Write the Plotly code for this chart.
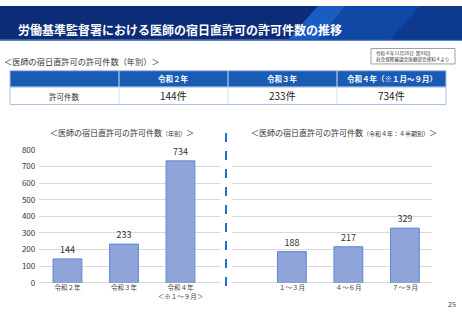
import plotly.graph_objects as go

# ---- data ----
year_labels = ["令和２年", "令和３年", "令和４年"]
year_ticks = ["令和２年", "令和３年", "令和４年<br>＜※１～９月＞"]
year_counts = [144, 233, 734]
table_headers = ["令和２年", "令和３年", "令和４年（※１月～９月）"]
row_label = "許可件数"
quarter_labels = ["１～３月", "４～６月", "７～９月"]
quarter_counts = [188, 217, 329]
y_ticks = [0, 100, 200, 300, 400, 500, 600, 700, 800]

W, H = 462, 320
FONT = "Noto Sans CJK JP"


def px(x):
    return x / W


def py(y):
    return 1 - y / H


bar_color = "#8fa4d9"
bar_line = "#5b87d3"

fig = go.Figure()
fig.add_trace(go.Bar(
    x=year_ticks, y=year_counts, xaxis="x", yaxis="y",
    marker=dict(color=bar_color, line=dict(color=bar_line, width=1)),
    width=0.51, text=[str(v) for v in year_counts], textposition="outside",
    textfont=dict(size=9, color="#333333", family=FONT), cliponaxis=False,
    showlegend=False,
))
fig.add_trace(go.Bar(
    x=quarter_labels, y=quarter_counts, xaxis="x2", yaxis="y2",
    marker=dict(color=bar_color, line=dict(color=bar_line, width=1)),
    width=0.51, text=[str(v) for v in quarter_counts], textposition="outside",
    textfont=dict(size=9, color="#333333", family=FONT), cliponaxis=False,
    showlegend=False,
))

y_dom = [py(286.7), py(149)]
common_y = dict(range=[0, 800], tickvals=y_ticks, showgrid=True,
                gridcolor="#d9d9d9", gridwidth=1, zeroline=True,
                zerolinecolor="#d9d9d9", zerolinewidth=1, domain=y_dom,
                fixedrange=True)

fig.update_layout(
    width=W, height=H, margin=dict(l=0, r=0, t=0, b=0),
    paper_bgcolor="white", plot_bgcolor="white",
    font=dict(family=FONT, color="#333333"),
    bargap=0.3,
    xaxis=dict(domain=[px(39.25), px(220)], range=[-0.5, 2.7],
               tickfont=dict(size=6.5, color="#444444"), showline=False,
               ticks="", showgrid=False, anchor="y"),
    yaxis=dict(**common_y, tickfont=dict(size=8, color="#333333"),
               ticks="", ticklabelstandoff=3, anchor="x"),
    xaxis2=dict(domain=[px(232), px(432)], range=[-1.06, 2.48],
                tickfont=dict(size=6.5, color="#444444"), showline=False,
                ticks="", showgrid=False, anchor="y2"),
    yaxis2=dict(**common_y, showticklabels=False, anchor="x2"),
)

shapes = []
ann = []


def note(text, x, y, size, color="#333333", xanchor="center", align="center"):
    ann.append(dict(text=text, x=px(x), y=py(y), xref="paper", yref="paper",
                    xanchor=xanchor, yanchor="middle", showarrow=False, align=align,
                    font=dict(size=size, color=color, family=FONT)))


# header band
shapes.append(dict(type="rect", xref="paper", yref="paper", x0=0, x1=1,
                   y0=py(35), y1=py(0), fillcolor="#0c2c78", line=dict(width=0), layer="below"))
shapes.append(dict(type="path", xref="paper", yref="paper",
                   path=f"M {px(288)},{py(35)} L {px(318)},{py(0)} L 1,{py(0)} L 1,{py(35)} Z",
                   fillcolor="#1048a6", line=dict(width=0), layer="below"))
shapes.append(dict(type="path", xref="paper", yref="paper",
                   path=f"M {px(288)},{py(35)} L {px(318)},{py(0)} L {px(345)},{py(0)} L {px(318)},{py(35)} Z",
                   fillcolor="#1a5cc2", line=dict(width=0), layer="below"))
shapes.append(dict(type="path", xref="paper", yref="paper",
                   path=f"M {px(390)},{py(35)} L {px(420)},{py(0)} L 1,{py(0)} L 1,{py(35)} Z",
                   fillcolor="#0d3a8e", line=dict(width=0), layer="below"))
shapes.append(dict(type="line", xref="paper", yref="paper", x0=0, x1=1,
                   y0=py(35.5), y1=py(35.5), line=dict(color="#2a5fb0", width=1)))
note("<b>労働基準監督署における医師の宿日直許可の許可件数の推移</b>", 16, 24.5, 12,
     color="white", xanchor="left", align="left")

# source box
shapes.append(dict(type="rect", xref="paper", yref="paper", x0=px(371), x1=px(455),
                   y0=py(60), y1=py(44), line=dict(color="#888888", width=0.8),
                   fillcolor="white"))
note("令和４年11月28日  第93回<br>社会保障審議会医療部会資料４より", 374, 52, 4.6,
     xanchor="left", align="left")

# section subtitle
note("＜医師の宿日直許可の許可件数（年別）＞", 2, 57, 8.2, xanchor="left", align="left")

# table
cols = [10, 119, 228, 337, 446]
head_top, head_bot, row_bot = 67, 84, 102
shapes.append(dict(type="rect", xref="paper", yref="paper", x0=px(cols[0]), x1=px(cols[-1]),
                   y0=py(head_bot), y1=py(head_top), fillcolor="#1a5bb4",
                   line=dict(color="#a8c2e6", width=1)))
shapes.append(dict(type="rect", xref="paper", yref="paper", x0=px(cols[0]), x1=px(cols[-1]),
                   y0=py(row_bot), y1=py(head_bot), fillcolor="white",
                   line=dict(color="#a8c2e6", width=1)))
for c in cols[1:-1]:
    shapes.append(dict(type="line", xref="paper", yref="paper", x0=px(c), x1=px(c),
                       y0=py(row_bot), y1=py(head_top), line=dict(color="#d0def2", width=1)))
for i, h in enumerate(table_headers):
    cx = (cols[i + 1] + cols[i + 2]) / 2
    note(f"<b>{h}</b>", cx, 75.5, 7.5, color="white")
note(row_label, (cols[0] + cols[1]) / 2, 93.5, 7.5)
for i, v in enumerate(year_counts):
    cx = (cols[i + 1] + cols[i + 2]) / 2
    note(f"{v}件", cx, 92.5, 10, color="#222222")

# chart titles
note("＜医師の宿日直許可の許可件数<span style='font-size:6px'>（年別）</span>＞", 122, 131, 8)
note("＜医師の宿日直許可の許可件数<span style='font-size:6px'>（令和４年：４半期別）</span>＞",
     344, 131, 8)

# divider
shapes.append(dict(type="line", xref="paper", yref="paper", x0=px(226), x1=px(226),
                   y0=py(290), y1=py(126), line=dict(color="#2070c8", width=2, dash="dash")))

# page number
note("25", 452, 309, 7)

fig.update_layout(shapes=shapes, annotations=ann)
fig.write_html("out.html")
